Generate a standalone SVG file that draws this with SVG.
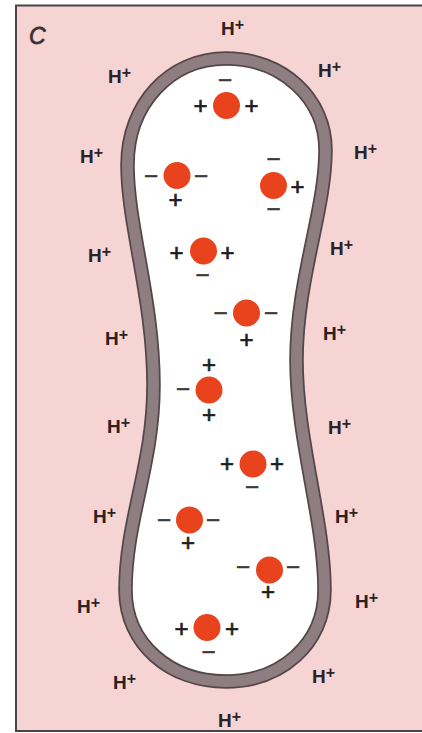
<svg xmlns="http://www.w3.org/2000/svg" width="422" height="733" viewBox="0 0 422 733">
  <style>
    .hp { font-family: "Liberation Sans", Arial, sans-serif; font-weight: bold; font-size: 19px; fill: #2a2224; }
    .hp tspan { font-size: 16px; }
    .ion { fill: #e8431c; }
    .ch { font-family: "Liberation Sans", Arial, sans-serif; font-size: 24px; text-anchor: middle; fill: #1e1e1e; stroke: #1e1e1e; stroke-width: 0.7; }
    .ch.neg { fill: #3a3a3a; stroke: #3a3a3a; }
  </style>
  <defs>
    <path id="cell" d="M226,58.5 C283,58.5 325.5,99 325.5,150 C325.5,210 296.5,280 296.5,360 C296.5,440 324.5,520 324.5,590 C324.5,644 281,681.5 226,681.5 C170,681.5 125.5,644 125.5,590 C125.5,520 153.5,465 153.5,385 C153.5,300 127.5,225 127.5,165 C127.5,104 170,58.5 226,58.5 Z"/>
  </defs>

  <!-- page and panel frame -->
  <rect x="0" y="0" width="422" height="733" fill="#ffffff"/>
  <rect id="panel" x="16" y="5.5" width="410" height="725.5" fill="#f6d4d4" stroke="#4a4446" stroke-width="2"/>
  <text x="29" y="44" font-family="Liberation Sans, Arial, sans-serif" font-style="italic" font-size="23" fill="#3a3436" stroke="#3a3436" stroke-width="0.8">C</text>

  <!-- membrane: white interior, dark rims, grey-mauve wall -->
  <g id="membrane">
    <use href="#cell" fill="#ffffff" stroke="#54464a" stroke-width="14.5"/>
    <use href="#cell" fill="none" stroke="#8e7e81" stroke-width="11"/>
  </g>

  <!-- protons in the surrounding medium -->
  <g id="protons">
    <text class="hp" x="221" y="35">H<tspan dy="-5">+</tspan></text>
    <text class="hp" x="108" y="83">H<tspan dy="-5">+</tspan></text>
    <text class="hp" x="318" y="77">H<tspan dy="-5">+</tspan></text>
    <text class="hp" x="80" y="163">H<tspan dy="-5">+</tspan></text>
    <text class="hp" x="354" y="159">H<tspan dy="-5">+</tspan></text>
    <text class="hp" x="88" y="262">H<tspan dy="-5">+</tspan></text>
    <text class="hp" x="330" y="255">H<tspan dy="-5">+</tspan></text>
    <text class="hp" x="105" y="345">H<tspan dy="-5">+</tspan></text>
    <text class="hp" x="323" y="340">H<tspan dy="-5">+</tspan></text>
    <text class="hp" x="107" y="433">H<tspan dy="-5">+</tspan></text>
    <text class="hp" x="328" y="434">H<tspan dy="-5">+</tspan></text>
    <text class="hp" x="93" y="523">H<tspan dy="-5">+</tspan></text>
    <text class="hp" x="335" y="523">H<tspan dy="-5">+</tspan></text>
    <text class="hp" x="77" y="613">H<tspan dy="-5">+</tspan></text>
    <text class="hp" x="355" y="608">H<tspan dy="-5">+</tspan></text>
    <text class="hp" x="113" y="689">H<tspan dy="-5">+</tspan></text>
    <text class="hp" x="312" y="683">H<tspan dy="-5">+</tspan></text>
    <text class="hp" x="218" y="727">H<tspan dy="-5">+</tspan></text>
  </g>

  <!-- charged particles inside the cell -->
  <g id="ion-1">
    <circle class="ion" cx="226.5" cy="105.5" r="13.5"/>
    <text class="ch neg" x="225" y="87.5">−</text>
    <text class="ch" x="200.5" y="114">+</text>
    <text class="ch" x="251.5" y="114">+</text>
  </g>
  <g id="ion-2">
    <circle class="ion" cx="177" cy="175.5" r="13.5"/>
    <text class="ch neg" x="151" y="184">−</text>
    <text class="ch neg" x="201" y="184">−</text>
    <text class="ch" x="175.5" y="208">+</text>
  </g>
  <g id="ion-3">
    <circle class="ion" cx="273.5" cy="185.5" r="13.5"/>
    <text class="ch neg" x="273.5" y="167">−</text>
    <text class="ch" x="297.5" y="195">+</text>
    <text class="ch neg" x="273.5" y="217">−</text>
  </g>
  <g id="ion-4">
    <circle class="ion" cx="203.5" cy="251" r="13.5"/>
    <text class="ch" x="176.5" y="261">+</text>
    <text class="ch" x="227.5" y="261">+</text>
    <text class="ch neg" x="202.5" y="283">−</text>
  </g>
  <g id="ion-5">
    <circle class="ion" cx="246.5" cy="313" r="13.5"/>
    <text class="ch neg" x="220.5" y="321">−</text>
    <text class="ch neg" x="271" y="321">−</text>
    <text class="ch" x="246.5" y="348">+</text>
  </g>
  <g id="ion-6">
    <circle class="ion" cx="209" cy="390" r="13.5"/>
    <text class="ch" x="209" y="373">+</text>
    <text class="ch neg" x="183" y="397">−</text>
    <text class="ch" x="209" y="423">+</text>
  </g>
  <g id="ion-7">
    <circle class="ion" cx="253" cy="464" r="13.5"/>
    <text class="ch" x="227" y="472">+</text>
    <text class="ch" x="277" y="472">+</text>
    <text class="ch neg" x="252" y="495">−</text>
  </g>
  <g id="ion-8">
    <circle class="ion" cx="189.5" cy="520" r="13.5"/>
    <text class="ch neg" x="164" y="528">−</text>
    <text class="ch neg" x="213" y="528">−</text>
    <text class="ch" x="188" y="551">+</text>
  </g>
  <g id="ion-9">
    <circle class="ion" cx="269.5" cy="570" r="13.5"/>
    <text class="ch neg" x="243" y="575">−</text>
    <text class="ch neg" x="293" y="575">−</text>
    <text class="ch" x="268" y="599.5">+</text>
  </g>
  <g id="ion-10">
    <circle class="ion" cx="207" cy="627.5" r="13.5"/>
    <text class="ch" x="181.5" y="637">+</text>
    <text class="ch" x="232" y="637">+</text>
    <text class="ch neg" x="208.5" y="660">−</text>
  </g>
</svg>
